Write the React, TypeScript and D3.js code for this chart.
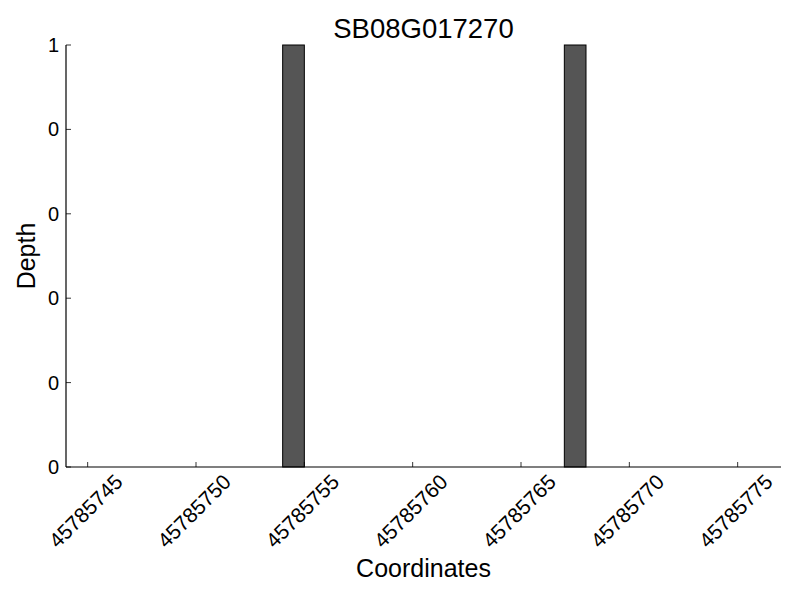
import * as d3 from 'd3';
import React, { useEffect, useRef } from 'react';

// coordinates (bar start) and their depth
const coordinates = [45785754, 45785767];
const depths = [1, 1];

const xDomain = [45785744, 45785777];
const yDomain = [0, 1];

const title = 'SB08G017270';
const xLabel = 'Coordinates';
const yLabel = 'Depth';

export default function App() {
    const ref = useRef<SVGSVGElement>(null);

    useEffect(() => {
        const svg = d3.select(ref.current);
        svg.selectAll('*').remove();

        const width = 800, height = 600;
        const m = { left: 66, right: 19, top: 45, bottom: 133 };
        const font = 'Liberation Sans, Arial, sans-serif';

        const x = d3.scaleLinear().domain(xDomain).range([m.left, width - m.right]);
        const y = d3.scaleLinear().domain(yDomain).range([height - m.bottom, m.top]);

        const data = coordinates.map((c, i) => ({ c, d: depths[i] }));

        // bars
        svg.append('g')
            .selectAll('rect')
            .data(data)
            .enter()
            .append('rect')
            .attr('x', d => x(d.c))
            .attr('width', d => x(d.c + 1) - x(d.c))
            .attr('y', d => y(d.d))
            .attr('height', d => y(0) - y(d.d))
            .attr('fill', '#555555')
            .attr('stroke', '#000')
            .attr('stroke-width', 1);

        // y axis
        const yTicks = y.ticks(5);
        const ya = svg.append('g');
        ya.append('line')
            .attr('x1', m.left).attr('x2', m.left)
            .attr('y1', y(1)).attr('y2', y(0))
            .attr('stroke', '#000').attr('stroke-width', 1.2);
        ya.selectAll('.tick')
            .data(yTicks)
            .enter()
            .append('line')
            .attr('x1', m.left).attr('x2', m.left + 5)
            .attr('y1', d => y(d)).attr('y2', d => y(d))
            .attr('stroke', '#000').attr('stroke-width', 0.8);
        ya.selectAll('text')
            .data(yTicks)
            .enter()
            .append('text')
            .attr('x', m.left - 7)
            .attr('y', d => y(d))
            .attr('dy', '0.35em')
            .attr('text-anchor', 'end')
            .style('font-family', font)
            .style('font-size', '20px')
            .text(d => String(Math.trunc(d)));

        // x axis
        const xTicks = x.ticks(7);
        const xa = svg.append('g');
        xa.append('line')
            .attr('x1', m.left).attr('x2', width - m.right)
            .attr('y1', y(0)).attr('y2', y(0))
            .attr('stroke', '#000').attr('stroke-width', 1.2);
        xa.selectAll('.tick')
            .data(xTicks)
            .enter()
            .append('line')
            .attr('x1', d => x(d)).attr('x2', d => x(d))
            .attr('y1', y(0)).attr('y2', y(0) - 5)
            .attr('stroke', '#000').attr('stroke-width', 0.8);
        const ly = y(0) + 44;
        xa.selectAll('text')
            .data(xTicks)
            .enter()
            .append('text')
            .attr('transform', d => `translate(${x(d) - 2},${ly}) rotate(-45)`)
            .attr('text-anchor', 'middle')
            .attr('dy', '0.35em')
            .style('font-family', font)
            .style('font-size', '21px')
            .text(d => String(d));

        // labels
        svg.append('text')
            .attr('x', (m.left + width - m.right) / 2)
            .attr('y', 38)
            .attr('text-anchor', 'middle')
            .style('font-family', font)
            .style('font-size', '27.5px')
            .text(title);

        svg.append('text')
            .attr('x', (m.left + width - m.right) / 2)
            .attr('y', 577)
            .attr('text-anchor', 'middle')
            .style('font-family', font)
            .style('font-size', '25px')
            .text(xLabel);

        svg.append('text')
            .attr('transform', `translate(35,${(y(0) + y(1)) / 2}) rotate(-90)`)
            .attr('text-anchor', 'middle')
            .style('font-family', font)
            .style('font-size', '25px')
            .text(yLabel);
    }, []);

    return (
        <svg ref={ref} width={800} height={600}
            style={{ position: 'absolute', left: 0, top: 0, background: '#fff' }} />
    );
}
